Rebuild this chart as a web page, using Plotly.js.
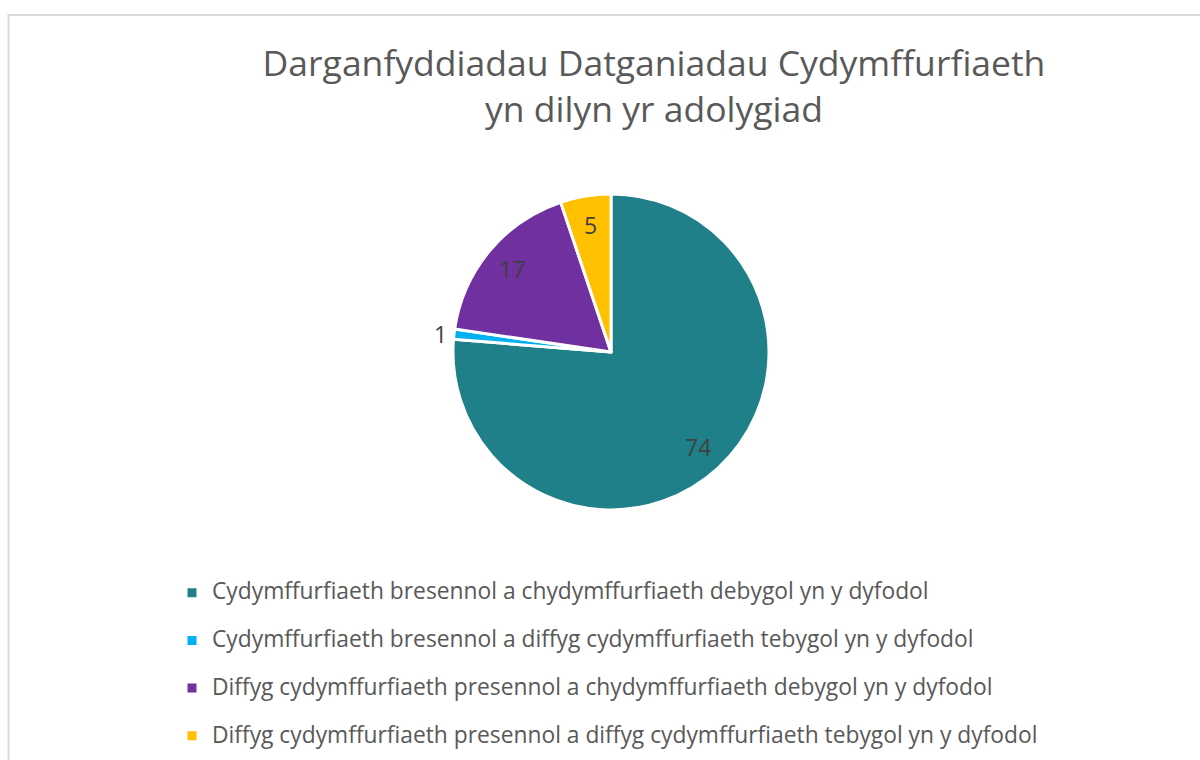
<!DOCTYPE html>
<html>
<head>
<meta charset="utf-8">
<script src="https://cdn.plot.ly/plotly-3.0.1.min.js"></script>
<style>
html,body{margin:0;padding:0;background:#fff;}
#chart{width:1200px;height:760px;}
</style>
</head>
<body>
<div id="chart"></div>
<script>
const categories = [
  "Cydymffurfiaeth bresennol a chydymffurfiaeth debygol yn y dyfodol",
  "Cydymffurfiaeth bresennol a diffyg cydymffurfiaeth tebygol yn y dyfodol",
  "Diffyg cydymffurfiaeth presennol a chydymffurfiaeth debygol yn y dyfodol",
  "Diffyg cydymffurfiaeth presennol a diffyg cydymffurfiaeth tebygol yn y dyfodol"
];
const values = [74, 1, 17, 5];
const colors = ["#1F8089", "#00B0F0", "#7030A0", "#FFC000"];
const labelOutside = [false, true, false, false];
const titleText = "Darganfyddiadau Datganiadau Cydymffurfiaeth<br>yn dilyn yr adolygiad";

const W = 1200, H = 760;
const cx = 611, cy = 352, r = 157;

// larger text on the first line, blank second line for wider legend spacing (not after the last item)
const legendLabels = categories.map((c, i) =>
  '<span style="font-size:22.8px">' + c + '</span>' + (i < categories.length - 1 ? '<br> ' : ''));

// data labels placed along each slice's bisector (angles derived from the values)
const total = values.reduce((a, b) => a + b, 0);
let cum = 0;
const annotations = values.map((v, i) => {
  const mid = (cum + v / 2) / total * 2 * Math.PI;
  cum += v;
  const rl = labelOutside[i] ? r + 6 : r * 0.82;
  const px = cx + rl * Math.sin(mid);
  const py = cy - rl * Math.cos(mid);
  return {
    x: px / W, y: 1 - py / H, xref: 'paper', yref: 'paper',
    text: String(v), showarrow: false,
    xanchor: labelOutside[i] ? 'right' : 'center', yanchor: 'middle',
    font: {family: 'Open Sans', size: 23, color: '#404040'}
  };
});

const trace = {
  type: 'pie',
  labels: legendLabels,
  values: values,
  sort: false,
  direction: 'clockwise',
  rotation: 0,
  marker: {colors: colors, line: {color: '#ffffff', width: 3}},
  textinfo: 'none',
  domain: {x: [(cx - r - 1) / W, (cx + r + 1) / W], y: [1 - (cy + r + 1) / H, 1 - (cy - r - 1) / H]},
  hoverinfo: 'label+value',
  showlegend: true
};

const layout = {
  width: W, height: H,
  margin: {l: 0, r: 0, t: 0, b: 0},
  paper_bgcolor: '#ffffff',
  font: {family: 'Open Sans', color: '#595959'},
  title: {
    text: titleText,
    font: {family: 'Open Sans', size: 35.5, color: '#595959'},
    x: 654 / W, xanchor: 'center',
    y: 1 - 76 / H, yanchor: 'top', yref: 'container'
  },
  showlegend: true,
  legend: {
    orientation: 'v',
    x: 172 / W, xanchor: 'left',
    y: 1 - 575 / H, yanchor: 'top',
    font: {family: 'Open Sans', size: 17.2, color: '#595959'},
    valign: 'top',
    bgcolor: 'rgba(0,0,0,0)'
  },
  annotations: annotations,
  shapes: [{
    type: 'rect', xref: 'paper', yref: 'paper',
    x0: 8.5 / W, x1: 1.2, y0: -0.2, y1: 1 - 15 / H,
    line: {color: '#D9D9D9', width: 2}, fillcolor: 'rgba(0,0,0,0)', layer: 'below'
  }]
};

Plotly.newPlot('chart', [trace], layout, {displayModeBar: false, staticPlot: true});
</script>
</body>
</html>
